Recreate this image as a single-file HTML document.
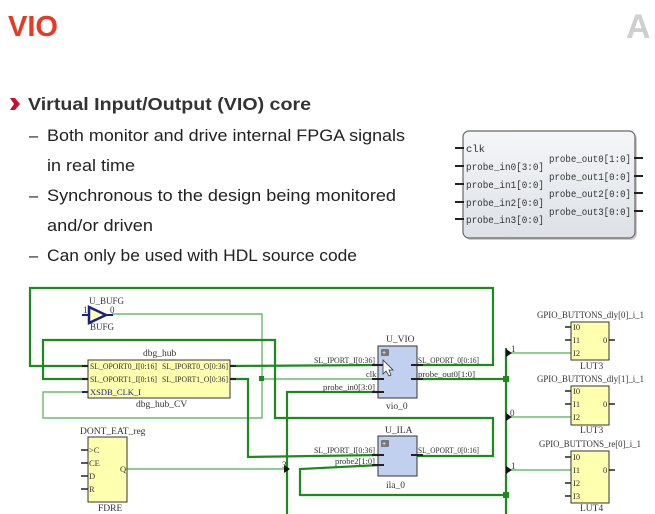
<!DOCTYPE html>
<html><head><meta charset="utf-8"><style>
html,body{margin:0;padding:0;background:#fff;}
svg{display:block}
</style></head><body>
<svg width="655" height="514" viewBox="0 0 655 514" xmlns="http://www.w3.org/2000/svg" font-family="Liberation Sans, sans-serif">
<defs>
<linearGradient id="g" x1="0" y1="0" x2="0" y2="1"><stop offset="0" stop-color="#f4f6f8"/><stop offset="1" stop-color="#dde1e6"/></linearGradient>
</defs>
<text x="8" y="36" font-size="29" font-weight="bold" fill="#e63a25" textLength="50" lengthAdjust="spacingAndGlyphs">VIO</text>
<text x="626" y="38" font-size="34" font-weight="bold" fill="#cfcfcf">A</text>
<path d="M10 98 L15 98 L20 104 L15 110 L10 110 L14 104 Z" fill="#c8102e"/>
<text x="28" y="110" font-size="17.5" font-weight="bold" fill="#333" textLength="283" lengthAdjust="spacingAndGlyphs">Virtual Input/Output (VIO) core</text>
<g font-size="16.5" fill="#222">
<text x="29" y="141">–</text>
<text x="47" y="141" textLength="358" lengthAdjust="spacingAndGlyphs">Both monitor and drive internal FPGA signals</text>
<text x="47" y="171" textLength="88" lengthAdjust="spacingAndGlyphs">in real time</text>
<text x="29" y="201">–</text>
<text x="47" y="201" textLength="349" lengthAdjust="spacingAndGlyphs">Synchronous to the design being monitored</text>
<text x="47" y="231" textLength="106" lengthAdjust="spacingAndGlyphs">and/or driven</text>
<text x="29" y="261">–</text>
<text x="47" y="261" textLength="310" lengthAdjust="spacingAndGlyphs">Can only be used with HDL source code</text>
</g>
<!-- VIO IP box -->
<rect x="465" y="133" width="172" height="107" rx="6" fill="#999" opacity="0.5"/>
<rect x="463" y="131" width="172" height="107" rx="6" fill="url(#g)" stroke="#666" stroke-width="1.2"/>
<g stroke="#222" stroke-width="2">
<line x1="455" y1="148" x2="464" y2="148"/><line x1="455" y1="166" x2="464" y2="166"/><line x1="455" y1="184" x2="464" y2="184"/><line x1="455" y1="202" x2="464" y2="202"/><line x1="455" y1="219" x2="464" y2="219"/>
<line x1="634" y1="158" x2="643" y2="158"/><line x1="634" y1="176" x2="643" y2="176"/><line x1="634" y1="193" x2="643" y2="193"/><line x1="634" y1="211" x2="643" y2="211"/>
</g>
<g font-family="Liberation Mono, monospace" font-size="10.5" fill="#333">
<text x="466" y="152">clk</text>
<text x="466" y="170" textLength="78" lengthAdjust="spacingAndGlyphs">probe_in0[3:0]</text>
<text x="466" y="188" textLength="78" lengthAdjust="spacingAndGlyphs">probe_in1[0:0]</text>
<text x="466" y="206" textLength="78" lengthAdjust="spacingAndGlyphs">probe_in2[0:0]</text>
<text x="466" y="223" textLength="78" lengthAdjust="spacingAndGlyphs">probe_in3[0:0]</text>
<text x="549" y="162" textLength="82" lengthAdjust="spacingAndGlyphs">probe_out0[1:0]</text>
<text x="549" y="180" textLength="82" lengthAdjust="spacingAndGlyphs">probe_out1[0:0]</text>
<text x="549" y="197" textLength="82" lengthAdjust="spacingAndGlyphs">probe_out2[0:0]</text>
<text x="549" y="215" textLength="82" lengthAdjust="spacingAndGlyphs">probe_out3[0:0]</text>
</g>
<!-- schematic thin wires -->
<g fill="none" stroke="#4caf50" stroke-width="1.2">
<polyline points="112,314 262,314 262,418 43,418 43,392 88,392"/>
<line x1="262" y1="379" x2="380" y2="379"/>
<line x1="127" y1="469" x2="287" y2="469"/>
<line x1="506" y1="353" x2="571" y2="353"/>
<line x1="506" y1="417" x2="571" y2="417"/>
<line x1="506" y1="470" x2="571" y2="470"/>
</g>
<!-- thick wires -->
<g fill="none" stroke="#1e8a1e" stroke-width="2.2">
<polyline points="88,366 30,366 30,288 493,288 493,365 417,365"/>
<polyline points="88,379 43,379 43,340 275,340 275,418 493,418 493,456 417,456"/>
<line x1="230" y1="366" x2="380" y2="365"/>
<polyline points="230,379 248,379 248,457 380,455"/>
<polyline points="380,392 287,392 287,514"/>
<polyline points="380,465 300,469 300,495 506,495"/>
<line x1="417" y1="379" x2="506" y2="379"/>
<line x1="506" y1="348" x2="506" y2="514"/>
</g>
<rect x="259" y="376" width="5" height="5" fill="#1e8a1e"/>
<rect x="503" y="376" width="6" height="6" fill="#1e8a1e"/>
<rect x="503" y="492" width="6" height="6" fill="#1e8a1e"/>
<g fill="#111"><path d="M506 349 l6 4 l-6 4z"/><path d="M506 413 l6 4 l-6 4z"/><path d="M506 466 l6 4 l-6 4z"/><path d="M284 465 l6 4 l-6 4z"/></g>
<g font-family="Liberation Serif, serif" font-size="9" fill="#333">
<text x="511" y="352">1</text><text x="510" y="416">0</text><text x="511" y="469">1</text><text x="282" y="468">3</text>
</g>
<!-- BUFG -->
<path d="M89 307 L106 315 L89 323 Z" fill="#ffffc0" stroke="#1a237e" stroke-width="2.5"/>
<line x1="82" y1="315" x2="89" y2="315" stroke="#1a237e" stroke-width="2"/>
<line x1="106" y1="315" x2="113" y2="315" stroke="#1a237e" stroke-width="2"/>
<g font-family="Liberation Serif, serif" font-size="9" fill="#334">
<text x="89" y="304">U_BUFG</text><text x="83" y="313">1</text><text x="110" y="313">0</text><text x="90" y="330">BUFG</text>
</g>
<!-- dbg_hub -->
<rect x="88" y="360" width="142" height="38" fill="#ffffb0" stroke="#333" stroke-width="1"/>
<g stroke="#222" stroke-width="2"><line x1="82" y1="366" x2="88" y2="366"/><line x1="82" y1="379" x2="88" y2="379"/><line x1="230" y1="366" x2="236" y2="366"/><line x1="230" y1="379" x2="236" y2="379"/></g>
<line x1="82" y1="392" x2="88" y2="392" stroke="#1a237e" stroke-width="2"/>
<g font-family="Liberation Serif, serif" font-size="8.5" fill="#333">
<text x="90" y="369" textLength="67" lengthAdjust="spacingAndGlyphs">SL_OPORT0_I[0:16]</text>
<text x="162" y="369" textLength="66" lengthAdjust="spacingAndGlyphs">SL_IPORT0_O[0:36]</text>
<text x="90" y="382" textLength="67" lengthAdjust="spacingAndGlyphs">SL_OPORT1_I[0:16]</text>
<text x="162" y="382" textLength="66" lengthAdjust="spacingAndGlyphs">SL_IPORT1_O[0:36]</text>
<text x="90" y="395" fill="#1a237e">XSDB_CLK_I</text>
<text x="143" y="356" font-size="9.5">dbg_hub</text>
<text x="136" y="407" font-size="9.5">dbg_hub_CV</text>
</g>
<!-- DONT_EAT_reg -->
<rect x="88" y="437" width="39" height="65" fill="#ffffb0" stroke="#333"/>
<g stroke="#222" stroke-width="1.5"><line x1="81" y1="450" x2="88" y2="450"/><line x1="81" y1="463" x2="88" y2="463"/><line x1="81" y1="476" x2="88" y2="476"/><line x1="81" y1="489" x2="88" y2="489"/></g>
<g font-family="Liberation Serif, serif" font-size="8.5" fill="#333">
<text x="89" y="453">&gt;C</text><text x="89" y="466">CE</text><text x="89" y="479">D</text><text x="89" y="492">R</text><text x="120" y="472">Q</text>
<text x="80" y="434" font-size="9.5">DONT_EAT_reg</text><text x="98" y="511" font-size="9.5">FDRE</text>
</g>
<!-- VIO -->
<rect x="378" y="346" width="39" height="52" fill="#c0d0ee" stroke="#333"/>
<rect x="381" y="349" width="8" height="7" rx="1" fill="#777"/><text x="382" y="355" font-size="7" fill="#fff">+</text>
<g stroke="#222" stroke-width="2"><line x1="372" y1="365" x2="384" y2="365"/><line x1="372" y1="379" x2="384" y2="379"/><line x1="372" y1="392" x2="384" y2="392"/><line x1="411" y1="365" x2="423" y2="365"/><line x1="411" y1="379" x2="423" y2="379"/></g>
<path d="M383 360 L383 374 L386 371 L389 376 L391 375 L389 370 L393 370 Z" fill="#fff" stroke="#333" stroke-width="0.8"/>
<g font-family="Liberation Serif, serif" font-size="8.5" fill="#333">
<text x="386" y="342" font-size="9.5">U_VIO</text><text x="386" y="409" font-size="9.5">vio_0</text>
<text x="314" y="363" textLength="61" lengthAdjust="spacingAndGlyphs">SL_IPORT_I[0:36]</text>
<text x="366" y="377">clk</text>
<text x="323" y="390" textLength="52" lengthAdjust="spacingAndGlyphs">probe_in0[3:0]</text>
<text x="418" y="363" textLength="61" lengthAdjust="spacingAndGlyphs">SL_OPORT_0[0:16]</text>
<text x="418" y="377" textLength="57" lengthAdjust="spacingAndGlyphs">probe_out0[1:0]</text>
</g>
<!-- ILA -->
<rect x="378" y="436" width="39" height="40" fill="#c0d0ee" stroke="#333"/>
<rect x="381" y="440" width="8" height="7" rx="1" fill="#777"/><text x="382" y="446" font-size="7" fill="#fff">+</text>
<g stroke="#222" stroke-width="2"><line x1="372" y1="455" x2="384" y2="455"/><line x1="372" y1="465" x2="384" y2="465"/><line x1="411" y1="455" x2="423" y2="455"/></g>
<g font-family="Liberation Serif, serif" font-size="8.5" fill="#333">
<text x="385" y="433" font-size="9.5">U_ILA</text><text x="386" y="488" font-size="9.5">ila_0</text>
<text x="314" y="453" textLength="61" lengthAdjust="spacingAndGlyphs">SL_IPORT_I[0:36]</text>
<text x="335" y="464" textLength="40" lengthAdjust="spacingAndGlyphs">probe2[1:0]</text>
<text x="418" y="453" textLength="61" lengthAdjust="spacingAndGlyphs">SL_OPORT_0[0:16]</text>
</g>
<!-- LUTs -->
<g fill="#ffffb0" stroke="#333"><rect x="571" y="322" width="38" height="38"/><rect x="571" y="386" width="38" height="39"/><rect x="571" y="451" width="38" height="52"/></g>
<g stroke="#222" stroke-width="1.5">
<line x1="565" y1="327" x2="571" y2="327"/><line x1="565" y1="340" x2="571" y2="340"/><line x1="609" y1="340" x2="615" y2="340"/>
<line x1="565" y1="391" x2="571" y2="391"/><line x1="565" y1="404" x2="571" y2="404"/><line x1="609" y1="404" x2="615" y2="404"/>
<line x1="565" y1="457" x2="571" y2="457"/><line x1="565" y1="483" x2="571" y2="483"/><line x1="565" y1="496" x2="571" y2="496"/><line x1="609" y1="470" x2="615" y2="470"/>
</g>
<g font-family="Liberation Serif, serif" font-size="8.5" fill="#333">
<text x="537" y="318" font-size="9.5" textLength="107" lengthAdjust="spacingAndGlyphs">GPIO_BUTTONS_dly[0]_i_1</text>
<text x="573" y="330">I0</text><text x="573" y="343">I1</text><text x="573" y="356">I2</text><text x="603" y="343">0</text>
<text x="580" y="369" font-size="9.5">LUT3</text>
<text x="537" y="382" font-size="9.5" textLength="107" lengthAdjust="spacingAndGlyphs">GPIO_BUTTONS_dly[1]_i_1</text>
<text x="573" y="394">I0</text><text x="573" y="407">I1</text><text x="573" y="420">I2</text><text x="603" y="407">0</text>
<text x="580" y="433" font-size="9.5">LUT3</text>
<text x="539" y="447" font-size="9.5" textLength="102" lengthAdjust="spacingAndGlyphs">GPIO_BUTTONS_re[0]_i_1</text>
<text x="573" y="460">I0</text><text x="573" y="473">I1</text><text x="573" y="486">I2</text><text x="573" y="499">I3</text><text x="603" y="473">0</text>
<text x="580" y="511" font-size="9.5">LUT4</text>
</g>
</svg>
</body></html>
